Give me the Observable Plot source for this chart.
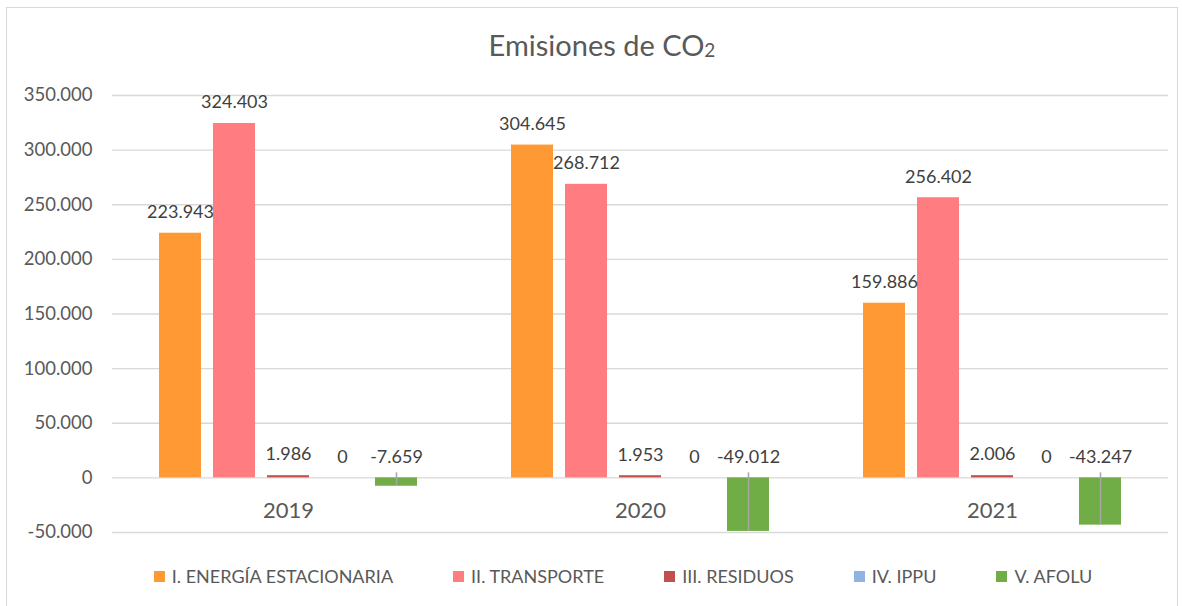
<!DOCTYPE html>
<html>
<head>
<meta charset="utf-8">
<script src="https://cdn.jsdelivr.net/npm/d3@7"></script>
<script src="https://cdn.jsdelivr.net/npm/@observablehq/plot@0.6"></script>
<style>
  html, body { margin: 0; padding: 0; background: #fff; }
  body { width: 1182px; height: 606px; position: relative; overflow: hidden; font-family: Lato, "Open Sans", sans-serif; }
  #frame { position: absolute; left: 6px; top: 7px; width: 1172px; height: 610px; border: 1px solid #d9d9d9; box-sizing: border-box; }
  #title { position: absolute; left: 0; width: 1204px; top: 27px; text-align: center; font-size: 29px; color: #595959; }
  #title sub { font-size: 19px; vertical-align: baseline; position: relative; top: 1px; }
  #chart { position: absolute; left: 0; top: 70px; }
  #legend { position: absolute; left: 0; width: 1246px; top: 565px; display: flex; justify-content: center; gap: 60px; font-size: 18px; color: #595959; }
  .item { display: flex; align-items: center; gap: 7px; white-space: nowrap; }
  .sw { width: 11px; height: 11px; display: inline-block; }
</style>
</head>
<body>
<div id="frame"></div>
<div id="title">Emisiones de CO<sub>2</sub></div>
<div id="chart"></div>
<div id="legend"></div>
<script>
const years = ["2019", "2020", "2021"];
const categories = ["I. ENERGÍA ESTACIONARIA", "II. TRANSPORTE", "III. RESIDUOS", "IV. IPPU", "V. AFOLU"];
const energia = [223943, 304645, 159886];
const transporte = [324403, 268712, 256402];
const residuos = [1986, 1953, 2006];
const ippu = [0, 0, 0];
const afolu = [-7659, -49012, -43247];
const colors = ["#ff9933", "#ff7c80", "#c0504d", "#8eb4e3", "#70ad47"];
const yTicks = [-50000, 0, 50000, 100000, 150000, 200000, 250000, 300000, 350000];

const series = [energia, transporte, residuos, ippu, afolu];
const data = [];
years.forEach((y, i) => categories.forEach((c, j) => data.push({year: y, category: c, value: series[j][i]})));

const loc = d3.formatLocale({decimal: ",", thousands: ".", grouping: [3], currency: ["", ""], minus: "-"});
const fmt = loc.format(",");

const chart = Plot.plot({
  width: 1182,
  height: 480,
  marginLeft: 111,
  marginRight: 14,
  marginTop: 25,
  marginBottom: 18,
  style: {fontFamily: "Lato, 'Open Sans', sans-serif", background: "transparent"},
  fx: {domain: years, padding: 0, axis: null},
  x: {domain: categories, paddingInner: 0.222, paddingOuter: 0.87, axis: null},
  y: {domain: [-50000, 350000], axis: null},
  color: {domain: categories, range: colors},
  marks: [
    Plot.gridY(yTicks, {stroke: "#d9d9d9", strokeOpacity: 1, strokeWidth: 1.3}),
    Plot.axisY(yTicks, {tickFormat: fmt, tickSize: 0, tickPadding: 20, fontSize: 18.5, fill: "#595959", label: null, facetAnchor: "left"}),
    Plot.barY(data, {fx: "year", x: "category", y: "value", fill: "category"}),
    Plot.ruleX(data.filter(d => d.category === "V. AFOLU"), {fx: "year", x: "category", y1: 0, y2: "value", stroke: "#a6a6a6", strokeWidth: 1.5, insetTop: -5}),
    Plot.text(data, {fx: "year", x: "category", y: d => Math.max(d.value, 0), text: d => fmt(d.value), dy: -21, fontSize: 18, fill: "#404040"}),
    Plot.text(years, {fx: d => d, y: 0, text: d => d, dy: 33, fontSize: 22, fill: "#595959", frameAnchor: "middle"})
  ]
});
document.getElementById("chart").appendChild(chart);

const legend = document.getElementById("legend");
categories.forEach((c, i) => {
  const it = document.createElement("div");
  it.className = "item";
  const sw = document.createElement("span");
  sw.className = "sw";
  sw.style.background = colors[i];
  const t = document.createElement("span");
  t.textContent = c;
  it.appendChild(sw);
  it.appendChild(t);
  legend.appendChild(it);
});
</script>
</body>
</html>
